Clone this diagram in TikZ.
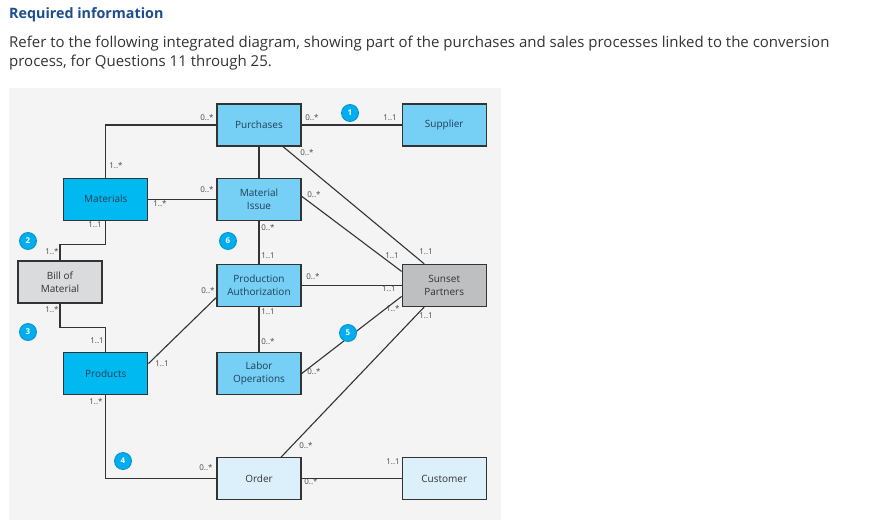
\documentclass[tikz,border=0pt]{standalone}
\usepackage{fontspec}
\setmainfont{Open Sans}
\usepackage{xcolor}
\usetikzlibrary{positioning}

\definecolor{panelgray}{HTML}{F4F4F4}
\definecolor{skyblue}{HTML}{76D0F5}
\definecolor{deepcyan}{HTML}{00B9F0}
\definecolor{bomgray}{HTML}{DADBDD}
\definecolor{partnergray}{HTML}{BEBFC1}
\definecolor{paleblue}{HTML}{DCF0FC}
\definecolor{badgeblue}{HTML}{00AEEF}
\definecolor{badgeedge}{HTML}{0092CC}
\definecolor{linegray}{HTML}{333333}
\definecolor{headblue}{HTML}{1C4D8C}
\definecolor{bodytext}{HTML}{333333}
\definecolor{boxtext}{HTML}{1F3F5A}

\begin{document}
\begin{tikzpicture}[
            x=1pt, y=-1pt,
            entity/.style={rectangle, draw=linegray, line width=1.2pt, minimum width=84pt, minimum height=42pt, inner sep=1pt, align=center, font=\fontsize{10}{12.5}\selectfont, text=boxtext},
            link/.style={draw=linegray, line width=1.1pt},
            mult/.style={font=\fontsize{8}{9}\selectfont, text=black!72, inner sep=0pt},
            badge/.style={circle, fill=badgeblue, draw=badgeedge, line width=0.8pt, minimum size=17pt, inner sep=0pt, text=white, font=\fontsize{8}{8}\selectfont\bfseries}
        ]
            \useasboundingbox (0,0) rectangle (883,522);
            \fill[panelgray] (9,88) rectangle (501,520);

            % heading
            \node[anchor=west, inner sep=0pt, font=\fontsize{14.3}{16}\selectfont\bfseries, text=headblue] (title) at (9,15) {Required information};
            \node[anchor=north west, inner sep=0pt, align=left, font=\fontsize{15}{19}\selectfont, text=bodytext] (intro) at (9,36) {Refer to the following integrated diagram, showing part of the purchases and sales processes linked to the conversion\\process, for Questions 11 through 25.};

            % classes
            \node[entity, fill=skyblue] (purch) at (259,125) {Purchases};
            \node[entity, fill=skyblue, right=100pt of purch] (supp) {Supplier};
            \node[entity, fill=skyblue, below=31pt of purch] (mati) {Material\\Issue};
            \node[entity, fill=deepcyan, left=68pt of mati] (matl) {Materials};
            \node[entity, fill=skyblue, below=43pt of mati] (prodauth) {Production\\Authorization};
            \node[entity, fill=partnergray, text=bodytext, right=100pt of prodauth] (sunset) {Sunset\\Partners};
            \node[entity, fill=skyblue, below=45pt of prodauth] (labor) {Labor\\Operations};
            \node[entity, fill=deepcyan, left=68pt of labor] (prod) {Products};
            \node[entity, fill=bomgray, text=bodytext] (bom) at (60,282) {Bill of\\Material};
            \node[entity, fill=paleblue, text=bodytext, below=62pt of labor] (order) {Order};
            \node[entity, fill=paleblue, text=bodytext, right=100pt of order] (cust) {Customer};

            % associations
            \draw[link] (purch.west) -| (matl.north);
            \draw[link] (matl.east) -- (matl.east -| mati.west);
            \draw[link] (matl.south) -- ++(0,24) -| (bom.north);
            \draw[link] (bom.south) -- ++(0,24) -| (prod.north);
            \draw[link] ([yshift=10pt]prod.east) -- ([yshift=-12pt]prodauth.west);
            \draw[link] (prod.south) |- (order.west);
            \draw[link] (purch.south) -- (mati.north);
            \draw[link] (purch.east) -- (supp.west);
            \draw[link] ([xshift=24pt]purch.south) -- ([xshift=-20pt]sunset.north);
            \draw[link] ([yshift=3pt]mati.east) -- ([yshift=14pt]sunset.west);
            \draw[link] (mati.south) -- (prodauth.north);
            \draw[link] (prodauth.east) -- (prodauth.east -| sunset.west);
            \draw[link] (prodauth.south) -- (labor.north);
            \draw[link] (labor.east) -- ([yshift=-11pt]sunset.west);
            \draw[link] ([xshift=-20pt]sunset.south) -- ([xshift=22pt]order.north);
            \draw[link] (order.east) -- (cust.west);

            % multiplicities
            \foreach \px/\py/\txt [count=\i] in {
                207/118/0..*, 116/166/1..*, 207/190/0..*, 160/204/1..*, 95/225/1..1,
                52/252/1..*, 52/310/1..*, 97/341/1..1, 162/364/1..1, 208/291/0..*,
                96/402/1..*, 312/118/0..*, 390/118/1..1, 307/153/0..*, 314/195/0..*,
                268/228/0..*, 268/256/1..1, 392/256/1..1, 426/252/1..1, 313/277/0..*,
                389/289/1..1, 393/309/1..*, 426/316/1..1, 268/312/1..1, 268/342/0..*,
                314/372/0..*, 306/446/0..*, 206/468/0..*, 311/482/0..*, 393/462/1..1}
                \node[mult] (m\i) at (\px,\py) {\txt};

            % question markers
            \node[badge] (q1) at (350,113) {1};
            \node[badge] (q2) at (28,241) {2};
            \node[badge] (q3) at (28,332) {3};
            \node[badge] (q4) at (123,461) {4};
            \node[badge] (q5) at (348,333) {5};
            \node[badge] (q6) at (228,241) {6};
        \end{tikzpicture}
\end{document}
